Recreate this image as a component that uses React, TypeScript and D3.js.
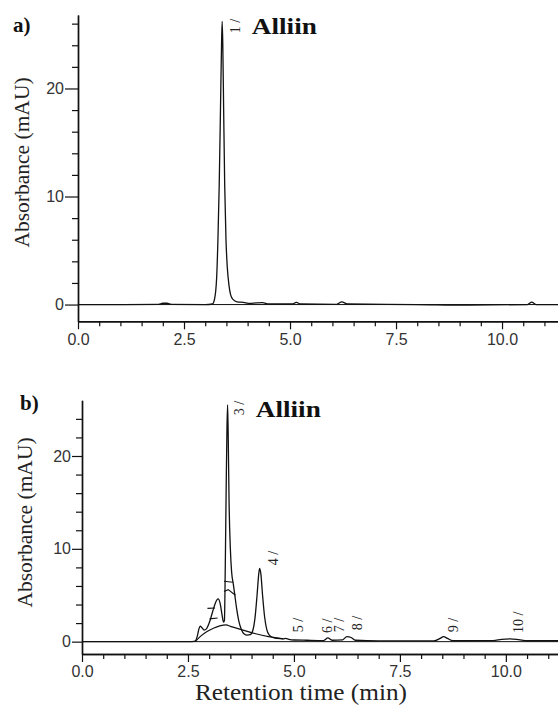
import React, { useEffect, useRef } from "react";
import * as d3 from "d3";

// a) standard: retention time (min) / absorbance (mAU)
const timeA = [0, 1.0, 1.9, 2.0, 2.1, 2.2, 3.0, 3.17, 3.22, 3.27, 3.3, 3.33, 3.36, 3.385, 3.4, 3.415, 3.435, 3.46, 3.49, 3.52, 3.56, 3.6, 3.66, 3.75, 3.9, 4.05, 4.2, 4.35, 4.5, 5.05, 5.15, 5.25, 6.1, 6.22, 6.35, 8.0, 9.2, 10.6, 10.7, 10.8, 11.32];
const absA = [0, 0, 0.02, 0.12, 0.12, 0.02, 0, 0.05, 0.5, 2.5, 6, 11, 18, 24, 26.2, 24, 18, 11, 6, 3.5, 1.8, 0.9, 0.45, 0.25, 0.2, 0.1, 0.15, 0.18, 0.05, 0.05, 0.2, 0.05, 0.02, 0.25, 0.05, 0, -0.05, 0, 0.22, 0, 0];

// b) extract
const timeB = [0, 2.6, 2.67, 2.72, 2.76, 2.79, 2.83, 2.88, 2.93, 3.0, 3.08, 3.15, 3.21, 3.26, 3.3, 3.34, 3.36, 3.38, 3.4, 3.42, 3.435, 3.45, 3.47, 3.5, 3.53, 3.57, 3.6, 3.65, 3.7, 3.76, 3.82, 3.9, 3.97, 4.03, 4.08, 4.13, 4.17, 4.19, 4.22, 4.26, 4.31, 4.36, 4.42, 4.5, 4.6, 4.75, 4.8, 4.88, 5.0, 5.3, 5.7, 5.8, 5.9, 6.15, 6.25, 6.35, 6.45, 7.0, 8.3, 8.45, 8.53, 8.62, 8.75, 9.7, 9.9, 10.1, 10.3, 10.5, 11.23];
const absB = [0, 0, 0.05, 0.6, 1.4, 1.67, 1.5, 1.25, 1.35, 2.0, 3.2, 4.2, 4.6, 4.1, 3.0, 2.1, 2.3, 8, 16, 23, 25.5, 22, 15, 10, 7.5, 6.2, 5.2, 3.5, 2.2, 1.3, 0.85, 0.7, 0.75, 1.2, 2.5, 5, 7.3, 7.9, 7.3, 5, 2.6, 1.3, 0.7, 0.45, 0.35, 0.3, 0.35, 0.25, 0.18, 0.15, 0.12, 0.4, 0.15, 0.2, 0.55, 0.45, 0.15, 0.08, 0.08, 0.35, 0.55, 0.35, 0.1, 0.12, 0.25, 0.3, 0.22, 0.1, 0.1];

// b) integration baseline under the first peaks
const baseTimeB = [2.67, 2.8, 2.95, 3.1, 3.25, 3.4, 3.5, 3.8, 4.1, 4.4, 4.6, 4.75];
const baseAbsB = [0, 0.6, 1.1, 1.45, 1.7, 1.8, 1.65, 1.25, 0.85, 0.55, 0.4, 0.3];

// b) integration marks [time, abs]
const marksB = [
  [[2.96, 3.58], [3.14, 3.62]],
  [[3.01, 2.45], [3.2, 2.55]],
  [[3.35, 6.5], [3.56, 6.4]],
  [[3.35, 5.4], [3.45, 5.6], [3.62, 5.0]],
];

// peak labels: text, time, abs where label starts
const peakNamesA = ["1 /"];
const peakTimesA = [3.7];
const peakLevelsA = [25.1];
const peakNamesB = ["3 /", "4 /", "5 /", "6 /", "7 /", "8 /", "9 /", "10 /"];
const peakTimesB = [3.7, 4.5, 5.09, 5.79, 6.06, 6.49, 8.75, 10.28];
const peakLevelsB = [24.4, 8.24, 1.02, 0.92, 1.02, 1.24, 1.02, 0.92];

const xMajor = [0, 2.5, 5, 7.5, 10];
const yMajor = [0, 10, 20];

const serif = "Liberation Serif, Times, serif";
const sans = "Liberation Sans, Arial, sans-serif";

function drawPanel(svg: any, p: any) {
  const x = d3.scaleLinear().domain(p.xDomain).range(p.xRange);
  const y = d3.scaleLinear().domain(p.yDomain).range(p.yRange);
  const g = svg.append("g");

  const xMinor = d3.range(0.5, p.xDomain[1], 0.5).filter((v) => !xMajor.includes(v));
  const yMinor = d3.range(2, p.yDomain[1], 2).filter((v) => !yMajor.includes(v));

  // y axis
  const yAxisG = g.append("g").attr("transform", `translate(${p.xRange[0]},0)`);
  yAxisG.call(d3.axisLeft(y).tickValues(yMinor).tickSize(6).tickSizeOuter(0).tickFormat(() => ""));
  yAxisG.append("g").call(d3.axisLeft(y).tickValues(yMajor).tickSize(p.yTick).tickSizeOuter(0).tickPadding(1));

  // x axis
  const xAxisG = g.append("g").attr("transform", `translate(0,${p.yRange[0]})`);
  xAxisG.call(d3.axisBottom(x).tickValues(xMinor).tickSize(5).tickSizeOuter(0).tickFormat(() => ""));
  xAxisG.append("g").call(d3.axisBottom(x).tickValues(xMajor).tickSize(8).tickSizeOuter(0).tickPadding(4).tickFormat(d3.format(".1f")));

  g.selectAll(".domain").attr("stroke", "#111").attr("stroke-width", 1.4);
  g.selectAll(".tick line").attr("stroke", "#111").attr("stroke-width", 1.2);
  g.selectAll(".tick text").attr("font-size", 16).attr("fill", "#333").style("font-family", sans);

  // zero line
  g.append("line")
    .attr("x1", p.xRange[0]).attr("x2", p.xRange[1])
    .attr("y1", y(0)).attr("y2", y(0))
    .attr("stroke", "#111").attr("stroke-width", 1);

  const line = d3.line<number>()
    .x((d, i) => x(p.times[i]))
    .y((d) => y(d))
    .curve(d3.curveMonotoneX);

  g.append("path")
    .attr("d", line(p.values))
    .attr("fill", "none").attr("stroke", "#111").attr("stroke-width", 1.3);

  if (p.baseTimes) {
    const bl = d3.line<number>()
      .x((d, i) => x(p.baseTimes[i]))
      .y((d) => y(d))
      .curve(d3.curveMonotoneX);
    g.append("path")
      .attr("d", bl(p.baseValues))
      .attr("fill", "none").attr("stroke", "#111").attr("stroke-width", 1.2);
  }

  if (p.marks) {
    const ml = d3.line<number[]>().x((d) => x(d[0])).y((d) => y(d[1]));
    p.marks.forEach((m: number[][]) => {
      g.append("path").attr("d", ml(m)).attr("fill", "none").attr("stroke", "#111").attr("stroke-width", 1.1);
    });
  }

  // peak labels
  p.names.forEach((name: string, i: number) => {
    g.append("text")
      .attr("transform", `translate(${x(p.labelTimes[i])},${y(p.labelLevels[i])}) rotate(-90)`)
      .attr("dy", "0.35em")
      .style("font-family", serif)
      .attr("font-size", 14)
      .attr("fill", "#222")
      .text(name);
  });

  // compound name
  g.append("text")
    .attr("x", x(p.alliin[0]))
    .attr("y", y(p.alliin[1]))
    .style("font-family", serif)
    .attr("font-weight", "bold")
    .attr("font-size", 24)
    .attr("textLength", 65)
    .attr("lengthAdjust", "spacingAndGlyphs")
    .attr("fill", "#111")
    .text("Alliin");

  // panel tag
  g.append("text")
    .attr("x", p.tag[1]).attr("y", p.tag[2])
    .style("font-family", serif).attr("font-weight", "bold").attr("font-size", 21)
    .attr("fill", "#111")
    .text(p.tag[0]);

  // y title
  g.append("text")
    .attr("transform", `translate(${p.yTitle[0]},${p.yTitle[1]}) rotate(-90)`)
    .attr("text-anchor", "middle")
    .style("font-family", serif).attr("font-size", 21.5)
    .attr("fill", "#222")
    .text("Absorbance (mAU)");
}

const App = () => {
  const ref = useRef<SVGSVGElement>(null);

  useEffect(() => {
    const svg = d3.select(ref.current);
    svg.selectAll("*").remove();

    drawPanel(svg, {
      xDomain: [0, 11.32], xRange: [78, 558],
      yDomain: [-1.55, 26.8], yRange: [321.3, 15],
      yTick: 13,
      times: timeA, values: absA,
      names: peakNamesA, labelTimes: peakTimesA, labelLevels: peakLevelsA,
      alliin: [4.1, 25.05],
      tag: ["a)", 13, 32],
      yTitle: [29, 162.5],
    });

    drawPanel(svg, {
      xDomain: [0, 11.23], xRange: [82, 558],
      yDomain: [-1.33, 26.0], yRange: [654, 400.3],
      yTick: 10,
      times: timeB, values: absB,
      baseTimes: baseTimeB, baseValues: baseAbsB,
      marks: marksB,
      names: peakNamesB, labelTimes: peakTimesB, labelLevels: peakLevelsB,
      alliin: [4.1, 24.25],
      tag: ["b)", 20, 410],
      yTitle: [32, 522.5],
    });

    svg.append("text")
      .attr("x", 301).attr("y", 700)
      .attr("text-anchor", "middle")
      .style("font-family", serif).attr("font-size", 24)
      .attr("textLength", 212).attr("lengthAdjust", "spacingAndGlyphs")
      .attr("fill", "#222")
      .text("Retention time (min)");
  }, []);

  return (
    <svg
      ref={ref}
      width={558}
      height={708}
      style={{ position: "absolute", left: 0, top: 0, background: "#fff" }}
    />
  );
};

export default App;
